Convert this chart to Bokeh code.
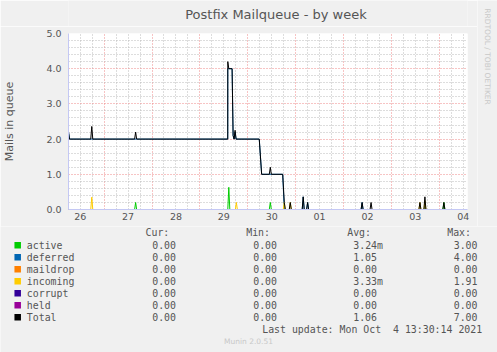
import math
from bokeh.plotting import figure
from bokeh.models import FixedTicker, Range1d
from bokeh.layouts import column, row
from bokeh.core.properties import value
from bokeh.embed import file_html
from bokeh.resources import INLINE

# ---------------- data (days since Sep 26 00:00) ----------------
day_ticks = [0.5, 1.5, 2.5, 3.5, 4.5, 5.5, 6.5, 7.5, 8.5]
day_labels = ["26", "27", "28", "29", "30", "01", "02", "03", "04"]
y_ticks = [0, 1, 2, 3, 4, 5]
y_labels = ["0.0", "1.0", "2.0", "3.0", "4.0", "5.0"]

active_t = [0.256, 1.637, 1.658, 1.679, 3.583, 3.604, 3.625, 4.45, 4.471, 4.492,
            8.075, 8.096, 8.117, 8.5625]
active_v = [0, 0, 0.2, 0, 0, 0.63, 0, 0, 0.2, 0, 0, 0.2, 0, 0]

deferred_t = [0.256, 0.277, 3.582, 3.583, 3.673, 3.694, 3.715, 3.735, 3.756, 4.24,
              4.29, 4.73, 4.763, 5.137, 5.158, 5.179, 5.229, 5.25, 5.271, 6.367,
              6.388, 6.409, 7.679, 7.7, 7.721, 8.5625]
deferred_v = [2.2, 2.0, 2.0, 4.0, 4.0, 2.1, 2.0, 2.2, 2.0, 2.0,
              1.0, 1.0, 0.0, 0, 0.36, 0, 0, 0.2, 0, 0,
              0.2, 0, 0, 0.1, 0, 0]

maildrop_t = [0.256, 8.5625]
maildrop_v = [0, 0]

incoming_t = [0.256, 0.721, 0.742, 0.763, 3.741, 3.762, 3.783, 4.742, 4.763, 4.784,
              4.867, 4.888, 4.909, 7.575, 7.596, 7.617, 7.679, 7.7, 7.721, 8.5625]
incoming_v = [0, 0, 0.35, 0, 0, 0.2, 0, 0, 0.2, 0,
              0, 0.2, 0, 0, 0.2, 0, 0, 0.25, 0, 0]

corrupt_t = [0.256, 8.5625]
corrupt_v = [0, 0]

held_t = [0.256, 8.5625]
held_v = [0, 0]

total_t = [0.256, 0.277, 0.721, 0.742, 0.763, 1.637, 1.658, 1.679, 3.582, 3.583,
           3.604, 3.673, 3.694, 3.715, 3.735, 3.756, 4.24, 4.29, 4.45, 4.471,
           4.492, 4.73, 4.763, 4.784, 4.867, 4.888, 4.909, 5.137, 5.158, 5.179,
           5.229, 5.25, 5.271, 6.367, 6.388, 6.409, 6.554, 6.575, 6.596, 7.575,
           7.596, 7.617, 7.679, 7.7, 7.721, 8.075, 8.096, 8.117, 8.5625]
total_v = [2.2, 2.0, 2.0, 2.36, 2.0, 2.0, 2.2, 2.0, 2.0, 4.2,
           4.0, 4.0, 2.1, 2.0, 2.25, 2.0, 2.0, 1.0, 1.0, 1.2,
           1.0, 1.0, 0.2, 0.0, 0, 0.2, 0, 0, 0.36, 0,
           0, 0.2, 0, 0, 0.2, 0, 0, 0.2, 0, 0,
           0.2, 0, 0, 0.36, 0, 0, 0.2, 0, 0]

series_names = ["active", "deferred", "maildrop", "incoming", "corrupt", "held", "Total"]
series_colors = ["#00CC00", "#0066B3", "#FF8000", "#FFCC00", "#330099", "#990099", "#000000"]
cur_vals = ["0.00", "0.00", "0.00", "0.00", "0.00", "0.00", "0.00"]
min_vals = ["0.00", "0.00", "0.00", "0.00", "0.00", "0.00", "0.00"]
avg_vals = ["3.24m", "1.05", "0.00", "3.33m", "0.00", "0.00", "1.06"]
max_vals = ["3.00", "4.00", "0.00", "1.91", "0.00", "0.00", "7.00"]
col_headers = ["Cur:", "Min:", "Avg:", "Max:"]

title_text = "Postfix Mailqueue - by week"
ylabel_text = "Mails in queue"
watermark_text = "RRDTOOL / TOBI OETIKER"
update_text = "Last update: Mon Oct\u00a0 4 13:30:14 2021"
footer_text = "Munin 2.0.51"

# ---------------- layout constants ----------------
BG = "#F0F0F0"
TXT = "#555555"
FAINT = "#C8C8C8"
MONO = "DejaVu Sans Mono"
SANS = "DejaVu Sans"
W, H = 497, 352
TOP_H = 26          # title strip
MAIN_W, MAIN_H = 477, 200
SIDE_W = W - MAIN_W
LEG_H = H - TOP_H - MAIN_H
FL, FR, FT, FB = 67, 467, 33, 209   # plot frame in page pixels
X0 = 0.256
X1 = X0 + (FR - FL) / 48.0


def blank(w, h, x0, x1, y_top, y_bot):
    f = figure(width=w, height=h, x_range=Range1d(x0, x1), y_range=Range1d(y_bot, y_top),
               output_backend="svg", toolbar_location=None, min_border=0,
               x_axis_location=None, y_axis_location=None,
               background_fill_color=BG, border_fill_color=BG, outline_line_color=None)
    f.grid.visible = False
    return f


# ---- title strip ----
top = blank(MAIN_W, TOP_H, 0, MAIN_W, 0, TOP_H)
top.text(x=[248], y=[13.5], text=[title_text], text_font=value(SANS),
         text_font_size=value("13px"), text_color=TXT, text_align="center",
         text_baseline="middle")

# ---- main chart ----
p = figure(width=MAIN_W, height=MAIN_H, x_range=(X0, X1), y_range=(0, 5),
           output_backend="svg", toolbar_location=None,
           min_border_left=FL, min_border_right=MAIN_W - FR,
           min_border_top=FT - TOP_H, min_border_bottom=TOP_H + MAIN_H - FB,
           background_fill_color="white", border_fill_color=BG,
           outline_line_color=None)

AX = "#C4C8F4"
p.xaxis.ticker = FixedTicker(ticks=day_ticks)
p.xaxis.major_label_overrides = dict(zip(day_ticks, day_labels))
p.yaxis.ticker = FixedTicker(ticks=y_ticks)
p.yaxis.major_label_overrides = dict(zip(y_ticks, y_labels))
for ax in (p.xaxis, p.yaxis):
    ax.axis_line_color = AX
    ax.major_tick_line_color = None
    ax.minor_tick_line_color = None
    ax.major_tick_out = 0
    ax.major_tick_in = 0
    ax.major_label_text_font = SANS
    ax.major_label_text_font_size = "9.5px"
    ax.major_label_text_color = TXT
p.yaxis.major_label_standoff = 7
p.xaxis.major_label_standoff = 3
p.yaxis.axis_label = ylabel_text
p.yaxis.axis_label_text_font = SANS
p.yaxis.axis_label_text_font_size = "11px"
p.yaxis.axis_label_text_font_style = "normal"
p.yaxis.axis_label_text_color = TXT
p.yaxis.axis_label_standoff = 27

minor_x = [0.25 * k for k in range(1, 35) if k % 4 != 0]
p.xgrid.ticker = FixedTicker(ticks=[1, 2, 3, 4, 5, 6, 7, 8], minor_ticks=minor_x)
p.ygrid.ticker = FixedTicker(ticks=[1, 2, 3, 4, 5],
                             minor_ticks=[0.2 * k for k in range(1, 25) if k % 5 != 0])
for g in (p.xgrid, p.ygrid):
    g.grid_line_color = "#EE8888"
    g.grid_line_dash = "1 2"
    g.grid_line_width = 1
    g.minor_grid_line_color = "#BBBBBB"
    g.minor_grid_line_dash = "1 2"
    g.minor_grid_line_width = 1

series_t = [active_t, deferred_t, maildrop_t, incoming_t, total_t, corrupt_t, held_t]
series_v = [active_v, deferred_v, maildrop_v, incoming_v, total_v, corrupt_v, held_v]
cols = [series_colors[i] for i in (0, 1, 2, 3, 6, 4, 5)]
alphas = [1, 1, 1, 1, 1, 0.45, 0.45]
for t, v, c, a in zip(series_t, series_v, cols, alphas):
    p.line(t, v, line_color=c, line_width=1, line_alpha=a)

# ---- right strip (watermark) ----
side = blank(SIDE_W, TOP_H + MAIN_H, MAIN_W, W, 0, TOP_H + MAIN_H)
side.text(x=[487], y=[56], text=[watermark_text], angle=-math.pi / 2,
          text_font=value(SANS), text_font_size=value("7.5px"), text_color=FAINT,
          text_align="center", text_baseline="middle")

# ---- legend strip ----
leg = blank(W, LEG_H, 0, W, TOP_H + MAIN_H, H)
FS = value("9.9px")
hdr_x = [145, 245.7, 346.7, 446.7]
leg.text(x=hdr_x, y=[232.3] * 4, text=col_headers, text_font=value(MONO),
         text_font_size=FS, text_color=TXT, text_align="left", text_baseline="middle")
rows_y = [244.7 + 12 * i for i in range(len(series_names))]
leg.rect(x=[17.2] * len(rows_y), y=rows_y, width=6.5, height=6.5,
         fill_color=series_colors, line_color=None)
leg.text(x=[26.3] * len(rows_y), y=rows_y, text=series_names, text_font=value(MONO),
         text_font_size=FS, text_color=TXT, text_align="left", text_baseline="middle")
for xr, vals in ((175.5, cur_vals), (276.5, min_vals), (477, max_vals)):
    leg.text(x=[xr] * len(rows_y), y=rows_y, text=vals, text_font=value(MONO),
             text_font_size=FS, text_color=TXT, text_align="right",
             text_baseline="middle")
avg_x = [382.5 if a.endswith("m") else 376.5 for a in avg_vals]
leg.text(x=avg_x, y=rows_y, text=avg_vals, text_font=value(MONO),
         text_font_size=FS, text_color=TXT, text_align="right", text_baseline="middle")
leg.text(x=[261.7], y=[328.7], text=[update_text], text_font=value(MONO),
         text_font_size=FS, text_color=TXT, text_align="left", text_baseline="middle")
leg.text(x=[248], y=[341], text=[footer_text], text_font=value(SANS),
         text_font_size=value("7.5px"), text_color=FAINT, text_align="center",
         text_baseline="middle")

layout = column(row(column(top, p, spacing=0), side, spacing=0), leg, spacing=0)
open("out.html", "w").write(file_html(layout, INLINE))
